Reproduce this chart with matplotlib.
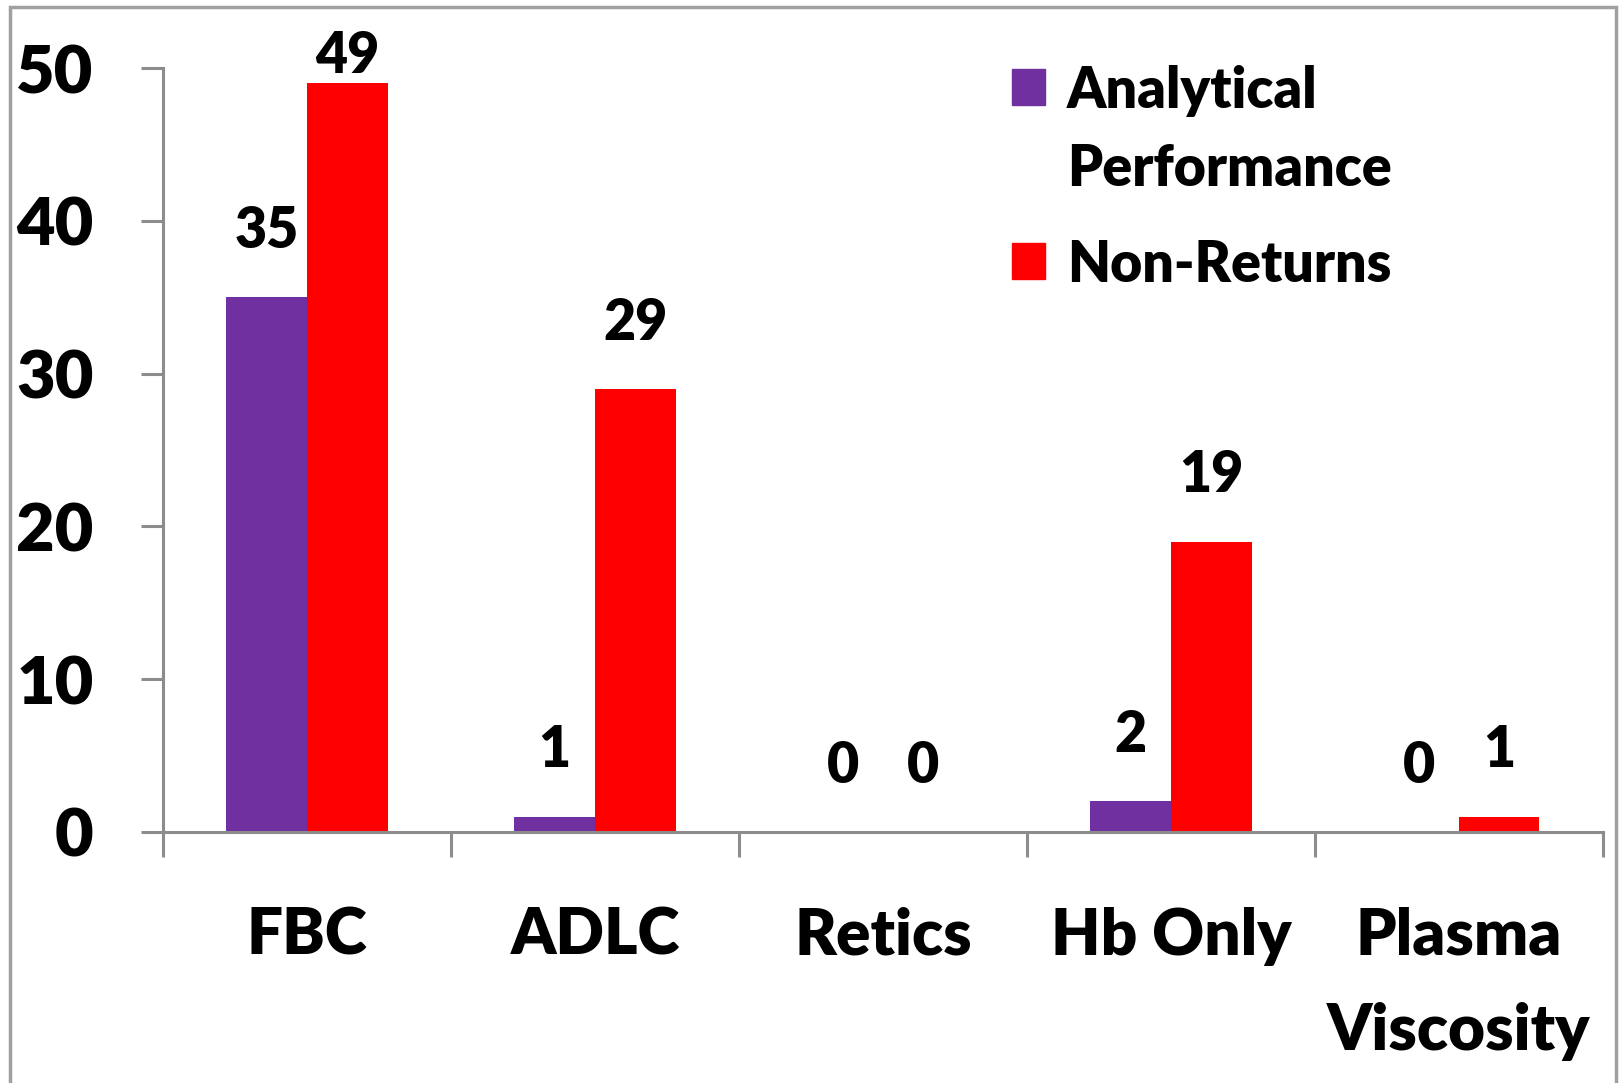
import matplotlib.pyplot as plt
import numpy as np
from matplotlib.patches import Rectangle

categories = ["FBC", "ADLC", "Retics", "Hb Only", "Plasma\nViscosity"]
analytical = [35, 1, 0, 2, 0]
non_returns = [49, 29, 0, 19, 1]
series_names = ["Analytical\nPerformance", "Non-Returns"]

purple = "#7030A0"
red = "#FF0000"
grey = "#8C8C8C"
W = "heavy"

plt.rcParams["font.family"] = ["Lato", "DejaVu Sans"]
plt.rcParams["font.weight"] = W

fig = plt.figure(figsize=(16.19, 10.83), dpi=100)
ax = fig.add_axes([0.1007, 0.2318, 0.8893, 0.7054])

x = np.arange(len(categories))
w = 0.28
b1 = ax.bar(x - w / 2, analytical, w, color=purple)
b2 = ax.bar(x + w / 2, non_returns, w, color=red)

# data labels above bars
for bars, vals in [(b1, analytical), (b2, non_returns)]:
    for rect, v in zip(bars, vals):
        off = 29 if v < 45 else 1
        ax.annotate(str(v), (rect.get_x() + rect.get_width() / 2, v),
                    xytext=(0, off), textcoords="offset points",
                    ha="center", va="bottom", fontsize=40, fontweight=W,
                    annotation_clip=False)

ax.set_xlim(-0.5, len(categories) - 0.5)
ax.set_ylim(0, 50)
ax.set_yticks([0, 10, 20, 30, 40, 50])
ax.set_xticks(np.arange(len(categories) + 1) - 0.5, minor=False)
ax.set_xticklabels([])
ax.set_xticks(x, minor=True)
ax.set_xticklabels(categories, minor=True, fontsize=46, fontweight=W,
                   linespacing=1.75)
ax.tick_params(axis="x", which="minor", length=0, pad=54)
ax.tick_params(axis="x", which="major", length=18, width=2.2, color=grey, direction="out")
ax.tick_params(axis="y", length=16, width=2.2, color=grey, direction="out",
               labelsize=48, pad=34)
for lab in ax.get_yticklabels():
    lab.set_fontweight(W)

for s in ["top", "right"]:
    ax.spines[s].set_visible(False)
for s in ["left", "bottom"]:
    ax.spines[s].set_color(grey)
    ax.spines[s].set_linewidth(2.2)

# legend drawn by hand so the swatch sits on the first text line
fw, fh = 1619, 1083
for name, col, top in zip(series_names, [purple, red], [69, 243]):
    fig.patches.append(Rectangle((1012 / fw, 1 - (top + 36) / fh), 33 / fw, 36 / fh,
                                 transform=fig.transFigure, color=col))
    fig.text(1067 / fw, 1 - (top - 4) / fh, name, transform=fig.transFigure,
             ha="left", va="top", fontsize=40, fontweight=W, linespacing=1.6)

# slide frame
fig.patches.append(Rectangle((10 / fw, -0.05), 1606 / fw, 1.05 - 7 / fh,
                             transform=fig.transFigure, fill=False,
                             edgecolor="#A0A0A0", linewidth=2.5))

fig.savefig("out.png", dpi=100)
